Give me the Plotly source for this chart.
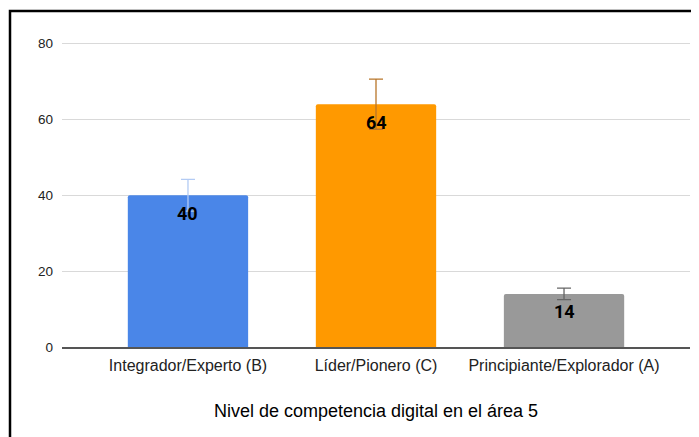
import plotly.graph_objects as go

# Data
categories = ["Integrador/Experto (B)", "Líder/Pionero (C)", "Principiante/Explorador (A)"]
values = [40, 64, 14]
errors = [4.2, 6.6, 1.5]
labels = ["40", "64", "14"]

_BAR_COLORS = ["#4a86e8", "#ff9900", "#999999"]
_ERR_COLORS = ["#b3cbf4", "#b8762a", "#666666"]
_FONT = "Liberation Sans, Arial, sans-serif"

fig = go.Figure()

for i, cat in enumerate(categories):
    fig.add_trace(
        go.Bar(
            x=[cat],
            y=[values[i]],
            width=0.64,
            marker=dict(color=_BAR_COLORS[i], line=dict(width=0)),
            error_y=dict(
                type="data",
                array=[errors[i]],
                visible=True,
                color=_ERR_COLORS[i],
                thickness=1.3,
                width=7,
            ),
            showlegend=False,
            hoverinfo="x+y",
        )
    )
    fig.add_annotation(
        x=cat,
        y=values[i],
        text=f"<b>{labels[i]}</b>",
        showarrow=False,
        yanchor="middle",
        yshift=-18,
        font=dict(family="Roboto, " + _FONT, size=18, color="#000000"),
    )

# Black frame (left and top edges visible, rest runs off the picture)
fig.add_shape(
    type="rect",
    xref="paper",
    yref="paper",
    x0=-0.0828,
    x1=1.2,
    y0=-0.6,
    y1=1.1016,
    line=dict(color="#000000", width=2.5),
    layer="above",
)

# page body has an 8px margin, so the figure is a bit smaller than the window
fig.update_layout(
    width=691,
    height=429,
    margin=dict(l=54, r=9, t=34, b=90),
    paper_bgcolor="#ffffff",
    plot_bgcolor="#ffffff",
    font=dict(family=_FONT, color="#222222"),
    barcornerradius=2,
    xaxis=dict(
        type="category",
        range=[-0.67, 2.67],
        showgrid=False,
        showline=True,
        linecolor="#555555",
        linewidth=1.5,
        ticks="",
        ticklabelstandoff=3,
        tickfont=dict(size=16, color="#222222"),
        title=dict(
            text="Nivel de competencia digital en el área 5",
            font=dict(size=18, color="#000000"),
            standoff=31,
        ),
    ),
    yaxis=dict(
        range=[0, 80.4],
        tickvals=[0, 20, 40, 60, 80],
        showgrid=True,
        gridcolor="#d9d9d9",
        gridwidth=1,
        zeroline=False,
        showline=False,
        ticks="",
        ticklabelstandoff=8,
        tickfont=dict(size=13.5, color="#222222"),
    ),
)

fig.write_html("out.html")
